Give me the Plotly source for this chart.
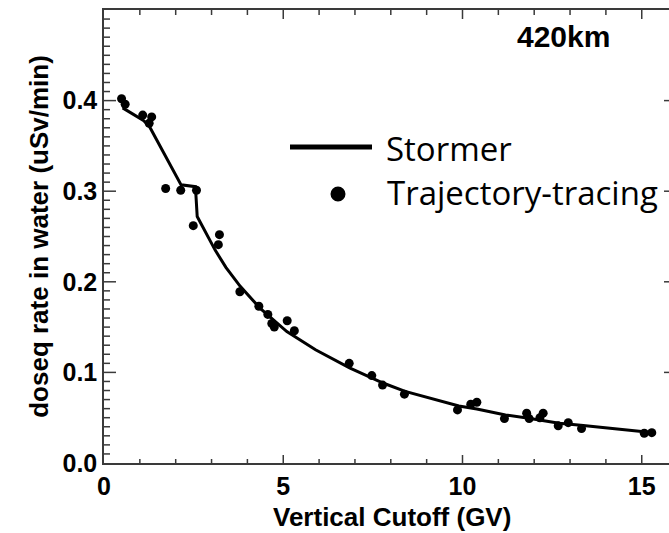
import plotly.graph_objects as go

# Trajectory-tracing points
traj_x = [0.49, 0.59, 1.08, 1.26, 1.33, 1.72, 2.14, 2.58, 2.49, 3.22, 3.19,
          3.79, 4.32, 4.57, 4.68, 4.75, 5.11, 5.31, 6.84, 7.47, 7.77,
          8.38, 9.86, 10.23, 10.40, 11.17, 11.79, 11.86, 12.16, 12.25,
          12.67, 12.95, 13.32, 15.07, 15.28]
traj_y = [0.402, 0.396, 0.384, 0.375, 0.382, 0.303, 0.301, 0.301, 0.262, 0.252, 0.241,
          0.189, 0.173, 0.164, 0.154, 0.150, 0.157, 0.146, 0.110, 0.0965, 0.086,
          0.076, 0.0586, 0.0649, 0.067, 0.049, 0.055, 0.049, 0.050, 0.055,
          0.041, 0.0445, 0.038, 0.0328, 0.0335]

# Stormer curve
storm_x = [0.52, 1.10, 1.26, 2.15, 2.55, 2.60, 3.10, 3.40, 3.80, 4.35, 5.10, 5.90,
           6.85, 7.80, 8.40, 9.90, 10.40, 11.20, 11.80, 12.20, 12.70, 13.30, 15.20]
storm_y = [0.392, 0.378, 0.372, 0.307, 0.305, 0.272, 0.235, 0.216, 0.195, 0.171, 0.145, 0.125,
           0.105, 0.088, 0.079, 0.063, 0.0595, 0.053, 0.0496, 0.047, 0.044, 0.0417, 0.034]

# tick values / labels
x_ticks = [0, 5, 10, 15]
x_major_inner = [5, 10, 15]
x_minor = [i for i in range(1, 16) if i % 5 != 0]
y_ticks = [0.0, 0.1, 0.2, 0.3, 0.4, 0.5]
y_ticklabels = ["0.0", "0.1", "0.2", "0.3", "0.4", "0.5"]
y_major_inner = [0.1, 0.2, 0.3, 0.4]
y_minor = [round(i * 0.01, 2) for i in range(1, 50) if i % 10 != 0]

W, H = 669, 533
L, R, T, B = 104, 0, 10, 70
plot_w = W - L - R
plot_h = H - T - B
px_per_unit = 35.85
x_max = plot_w / px_per_unit
Y_MAX = 0.5

fig = go.Figure()
fig.add_trace(go.Scatter(x=storm_x, y=storm_y, mode="lines",
                         line=dict(color="black", width=3), name="Stormer",
                         showlegend=False))
fig.add_trace(go.Scatter(x=traj_x, y=traj_y, mode="markers",
                         marker=dict(color="black", size=9), name="Trajectory-tracing",
                         showlegend=False))

AX = "#3a3a3a"
tick_font = dict(family="Liberation Sans, Arial", size=25, color="black", weight="bold")
title_font = dict(family="Liberation Sans, Arial", size=26, color="black", weight="bold")

fig.update_layout(
    xaxis=dict(range=[0, x_max], tickmode="array", tickvals=x_ticks, ticks="",
               showline=True, linewidth=1.5, linecolor=AX, mirror=True,
               showgrid=False, zeroline=False, tickfont=tick_font),
    yaxis=dict(range=[0, Y_MAX], tickmode="array", tickvals=y_ticks, ticktext=y_ticklabels,
               ticks="", showline=True, linewidth=1.5, linecolor=AX, mirror=False,
               showgrid=False, zeroline=False, tickfont=tick_font,
               title=dict(text="doseq rate in water (uSv/min)", font=title_font, standoff=6)),
)

tick_line = dict(color=AX, width=1.5)

def x_tick(v, length, top=False):
    if top:
        fig.add_shape(type="line", xref="x", yref="paper", x0=v, x1=v,
                      ysizemode="pixel", yanchor=1, y0=-length, y1=0, line=tick_line)
    else:
        fig.add_shape(type="line", xref="x", yref="paper", x0=v, x1=v,
                      ysizemode="pixel", yanchor=0, y0=0, y1=length, line=tick_line)

def y_tick(v, length, right=False):
    if right:
        fig.add_shape(type="line", xref="paper", yref="y", y0=v, y1=v,
                      xsizemode="pixel", xanchor=1, x0=-length, x1=0, line=tick_line)
    else:
        fig.add_shape(type="line", xref="paper", yref="y", y0=v, y1=v,
                      xsizemode="pixel", xanchor=0, x0=0, x1=length, line=tick_line)

for v in x_major_inner:
    x_tick(v, 8)
    x_tick(v, 9, top=True)
for v in x_minor:
    x_tick(v, 4)
    x_tick(v, 5, top=True)
for v in y_major_inner:
    y_tick(v, 12)
    y_tick(v, 5, right=True)
for v in y_minor:
    y_tick(v, 6)

def px_to_data(px, py):
    return (px - L) / px_per_unit, (H - B - py) / plot_h * Y_MAX

# x-axis title (centred like the original, slightly right of the visible plot centre)
fig.add_annotation(x=(392 - L) / plot_w, y=(H - B - 517) / plot_h, xref="paper", yref="paper",
                   text="Vertical Cutoff (GV)", showarrow=False, xanchor="center",
                   yanchor="middle", font=title_font)

# legend drawn manually
lx0, ly = px_to_data(290, 147)
lx1, _ = px_to_data(372, 147)
fig.add_shape(type="line", x0=lx0, x1=lx1, y0=ly, y1=ly, xref="x", yref="y",
              line=dict(color="black", width=5))
cx, cy = px_to_data(338, 194)
fig.add_shape(type="circle", xref="x", yref="y", xsizemode="pixel", ysizemode="pixel",
              xanchor=cx, yanchor=cy, x0=-7.5, x1=7.5, y0=-7.5, y1=7.5,
              fillcolor="black", line=dict(color="black", width=0))

leg_font = dict(family="Open Sans", size=33, color="black")
tx, ty = px_to_data(384, 148)
fig.add_annotation(x=tx, y=ty, xref="x", yref="y", text="Stormer", showarrow=False,
                   xanchor="left", yanchor="middle", font=leg_font)
tx, ty = px_to_data(385, 192)
fig.add_annotation(x=tx, y=ty, xref="x", yref="y", text="Trajectory-tracing", showarrow=False,
                   xanchor="left", yanchor="middle", font=leg_font)
tx, ty = px_to_data(563, 36)
fig.add_annotation(x=tx, y=ty, xref="x", yref="y", text="420km", showarrow=False,
                   xanchor="center", yanchor="middle",
                   font=dict(family="Liberation Sans, Arial", size=30, color="black", weight="bold"))

fig.update_layout(width=W, height=H, margin=dict(l=L, r=R, t=T, b=B, pad=0),
                  paper_bgcolor="white", plot_bgcolor="white", showlegend=False)

fig.write_html("out.html")
